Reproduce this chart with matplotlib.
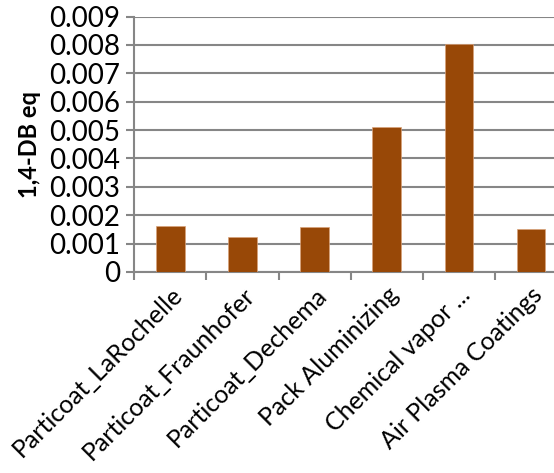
import matplotlib.pyplot as plt

# data
categories = ['Particoat_LaRochelle', 'Particoat_Fraunhofer', 'Particoat_Dechema',
              'Pack Aluminizing', 'Chemical vapor ...', 'Air Plasma Coatings']
values = [0.00163, 0.00123, 0.00157, 0.00512, 0.00805, 0.00153]
y_ticks = [0, 0.001, 0.002, 0.003, 0.004, 0.005, 0.006, 0.007, 0.008, 0.009]
y_tick_labels = ['0', '0.001', '0.002', '0.003', '0.004', '0.005', '0.006', '0.007', '0.008', '0.009']

plt.rcParams['font.family'] = ['Lato', 'DejaVu Sans']
grid_color = '#868686'

fig = plt.figure(figsize=(5.54, 4.73), dpi=100)
ax = fig.add_axes([0.2424, 0.425, 0.781, 0.54])

x = list(range(len(categories)))
ax.bar(x, values, width=0.395, color='#984807', edgecolor='#d9a27a', linewidth=0.5, zorder=3)

ax.set_xlim(-0.5, len(categories) - 0.5)
ax.set_ylim(0, 0.009)
ax.set_yticks(y_ticks)
ax.set_yticklabels(y_tick_labels, fontsize=20)
ax.yaxis.grid(True, color=grid_color, linewidth=1.5, zorder=0)

# category labels at bar centres, tick marks at the boundaries
ax.set_xticks(x)
ax.set_xticklabels(categories, rotation=45, ha='right', rotation_mode='anchor', fontsize=18)
ax.tick_params(axis='x', length=0, pad=8)
ax.set_xticks([i - 0.5 for i in range(len(categories) + 1)], minor=True)
ax.tick_params(axis='x', which='minor', length=6, width=1.5, color=grid_color)
ax.tick_params(axis='y', length=6, width=1.5, color=grid_color, pad=4)

for side in ['top', 'right']:
    ax.spines[side].set_visible(False)
ax.spines['left'].set_color(grid_color)
ax.spines['left'].set_linewidth(1.5)
ax.spines['bottom'].set_color(grid_color)
ax.spines['bottom'].set_linewidth(1.5)

ax.set_ylabel('1,4-DB eq', fontsize=17, fontweight='bold', labelpad=6)

fig.savefig('out.png', dpi=100)
